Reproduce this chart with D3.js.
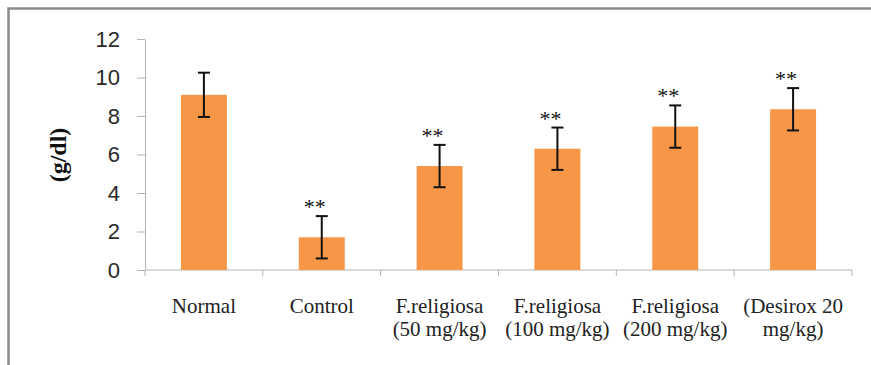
<!DOCTYPE html>
<html>
<head>
<meta charset="utf-8">
<script src="https://cdn.jsdelivr.net/npm/d3@7"></script>
<style>
  body { margin: 0; background: #fff; }
  svg { display: block; }
</style>
</head>
<body>
<svg id="chart" width="871" height="365"></svg>
<script>
// data
var groups = ["Normal", "Control", "F.religiosa (50 mg/kg)", "F.religiosa (100 mg/kg)", "F.religiosa (200 mg/kg)", "(Desirox 20 mg/kg)"];
var labelLines = [["Normal"], ["Control"], ["F.religiosa", "(50 mg/kg)"], ["F.religiosa", "(100 mg/kg)"], ["F.religiosa", "(200 mg/kg)"], ["(Desirox 20", "mg/kg)"]];
var means = [9.1, 1.7, 5.4, 6.3, 7.45, 8.35];
var errors = [1.15, 1.1, 1.1, 1.1, 1.1, 1.1];
var marks = ["", "**", "**", "**", "**", "**"];
var yTicks = [0, 2, 4, 6, 8, 10, 12];

var svg = d3.select("#chart");

var plotLeft = 145, plotRight = 852, plotTop = 39, plotBottom = 270;

var x = d3.scaleBand().domain(groups).range([plotLeft, plotRight]).paddingInner(0).paddingOuter(0);
var y = d3.scaleLinear().domain([0, 12]).range([plotBottom, plotTop]);
var barW = x.bandwidth() * 0.39;

// frame
svg.append("path")
  .attr("d", "M8.5,365 L8.5,8.5 L871,8.5")
  .attr("fill", "none")
  .attr("stroke", "#8a8a8a")
  .attr("stroke-width", 2.5);

// y axis
var yAxis = svg.append("g")
  .attr("transform", "translate(" + plotLeft + ",0)")
  .call(d3.axisLeft(y).tickValues(yTicks).tickSize(8).tickPadding(17).tickSizeOuter(0));
yAxis.select(".domain").attr("stroke", "#b5b5b5");
yAxis.selectAll(".tick line").attr("stroke", "#b5b5b5");
yAxis.selectAll(".tick text")
  .attr("fill", "#2a2a2a")
  .style("font-family", "'Liberation Sans', Arial, sans-serif")
  .style("font-size", "22px");

// x axis line with category separators
var xg = svg.append("g");
xg.append("line")
  .attr("x1", plotLeft).attr("x2", plotRight)
  .attr("y1", y(0)).attr("y2", y(0))
  .attr("stroke", "#b5b5b5");
var seps = groups.map(function(g) { return x(g); }).concat([plotRight]);
xg.selectAll("line.sep")
  .data(seps)
  .enter().append("line")
  .attr("class", "sep")
  .attr("x1", function(d) { return d; })
  .attr("x2", function(d) { return d; })
  .attr("y1", y(0))
  .attr("y2", y(0) + 6)
  .attr("stroke", "#b5b5b5");

// bars
svg.append("g")
  .selectAll("rect")
  .data(means)
  .enter().append("rect")
  .attr("x", function(d, i) { return x(groups[i]) + x.bandwidth() / 2 - barW / 2; })
  .attr("y", function(d) { return y(d); })
  .attr("width", barW)
  .attr("height", function(d) { return y(0) - y(d); })
  .attr("fill", "#f79646");

// error bars
var eb = svg.append("g")
  .attr("stroke", "#111")
  .attr("stroke-width", 2);
means.forEach(function(m, i) {
  var cx = x(groups[i]) + x.bandwidth() / 2;
  var hi = y(m + errors[i]), lo = y(m - errors[i]);
  eb.append("line").attr("x1", cx).attr("x2", cx).attr("y1", hi).attr("y2", lo);
  eb.append("line").attr("x1", cx - 6).attr("x2", cx + 6).attr("y1", hi).attr("y2", hi);
  eb.append("line").attr("x1", cx - 6).attr("x2", cx + 6).attr("y1", lo).attr("y2", lo);
});

// significance stars
svg.append("g")
  .selectAll("text")
  .data(marks)
  .enter().append("text")
  .attr("x", function(d, i) { return x(groups[i]) + x.bandwidth() / 2 - 7; })
  .attr("y", function(d, i) { return y(means[i] + errors[i]) - 2; })
  .attr("text-anchor", "middle")
  .style("font-family", "'Liberation Serif', 'Times New Roman', serif")
  .style("font-size", "22px")
  .attr("fill", "#111")
  .text(function(d) { return d; });

// category labels
var lab = svg.append("g")
  .selectAll("text")
  .data(labelLines)
  .enter().append("text")
  .attr("text-anchor", "middle")
  .attr("x", function(d, i) { return x(groups[i]) + x.bandwidth() / 2; })
  .attr("y", 313)
  .style("font-family", "'Liberation Serif', 'Times New Roman', serif")
  .style("font-size", "21px")
  .attr("fill", "#222");
lab.selectAll("tspan")
  .data(function(d) { return d; })
  .enter().append("tspan")
  .attr("x", function() { return d3.select(this.parentNode).attr("x"); })
  .attr("dy", function(d, i) { return i === 0 ? 0 : 23; })
  .text(function(d) { return d; });

// y title
svg.append("text")
  .attr("transform", "translate(66,155) rotate(-90)")
  .attr("text-anchor", "middle")
  .style("font-family", "'Liberation Serif', 'Times New Roman', serif")
  .style("font-weight", "bold")
  .style("font-size", "24px")
  .attr("fill", "#111")
  .text("(g/dl)");
</script>
</body>
</html>
